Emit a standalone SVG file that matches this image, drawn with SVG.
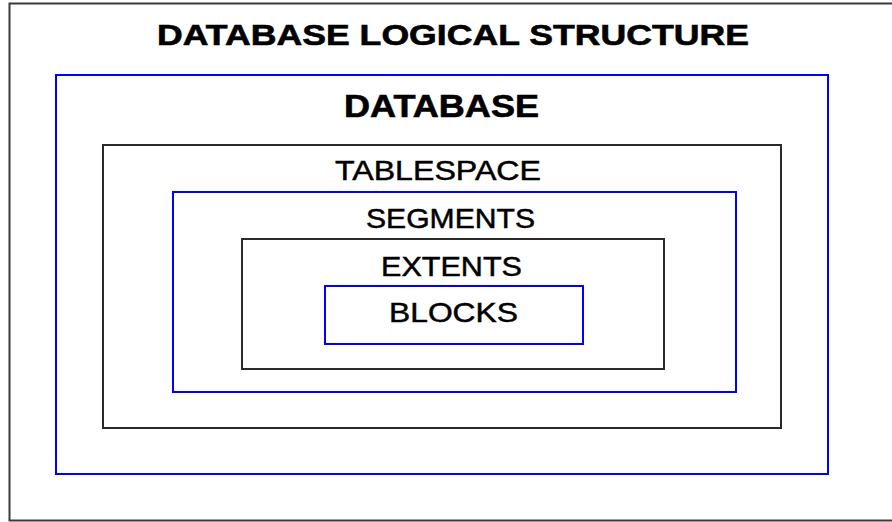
<svg xmlns="http://www.w3.org/2000/svg" width="892" height="522" viewBox="0 0 892 522">
  <style>
    .frame { fill: none; stroke: #3a3a3a; stroke-width: 2; }
    .blue { fill: none; stroke: #0000ff; stroke-width: 2; }
    .dark { fill: none; stroke: #2a2a2a; stroke-width: 2; }
    .lbl { font-family: "Liberation Sans", Arial, sans-serif; fill: #000; stroke: #000; stroke-width: 0.5; }
    .bold { font-weight: bold; stroke-width: 0.6; }
  </style>
  <rect x="0" y="0" width="892" height="522" fill="#ffffff"/>
  <rect class="frame" x="9.5" y="3.5" width="900" height="517"/>
  <text class="lbl bold" x="157" y="45" font-size="29" textLength="592" lengthAdjust="spacingAndGlyphs">DATABASE LOGICAL STRUCTURE</text>

  <g id="database">
    <rect class="blue" x="56" y="75" width="772" height="399"/>
    <text class="lbl bold" x="344" y="117" font-size="32" textLength="195" lengthAdjust="spacingAndGlyphs">DATABASE</text>
  </g>
  <g id="tablespace">
    <rect class="dark" x="103" y="145" width="678" height="283"/>
    <text class="lbl" x="335" y="180" font-size="28" textLength="206" lengthAdjust="spacingAndGlyphs">TABLESPACE</text>
  </g>
  <g id="segments">
    <rect class="blue" x="173" y="192" width="563" height="200"/>
    <text class="lbl" x="366" y="228" font-size="28" textLength="169" lengthAdjust="spacingAndGlyphs">SEGMENTS</text>
  </g>
  <g id="extents">
    <rect class="dark" x="242" y="239" width="422" height="130"/>
    <text class="lbl" x="381" y="276" font-size="28" textLength="141" lengthAdjust="spacingAndGlyphs">EXTENTS</text>
  </g>
  <g id="blocks">
    <rect class="blue" x="325" y="286" width="258" height="58"/>
    <text class="lbl" x="389" y="322" font-size="28" textLength="129" lengthAdjust="spacingAndGlyphs">BLOCKS</text>
  </g>
  <g id="connectors"/>
</svg>
